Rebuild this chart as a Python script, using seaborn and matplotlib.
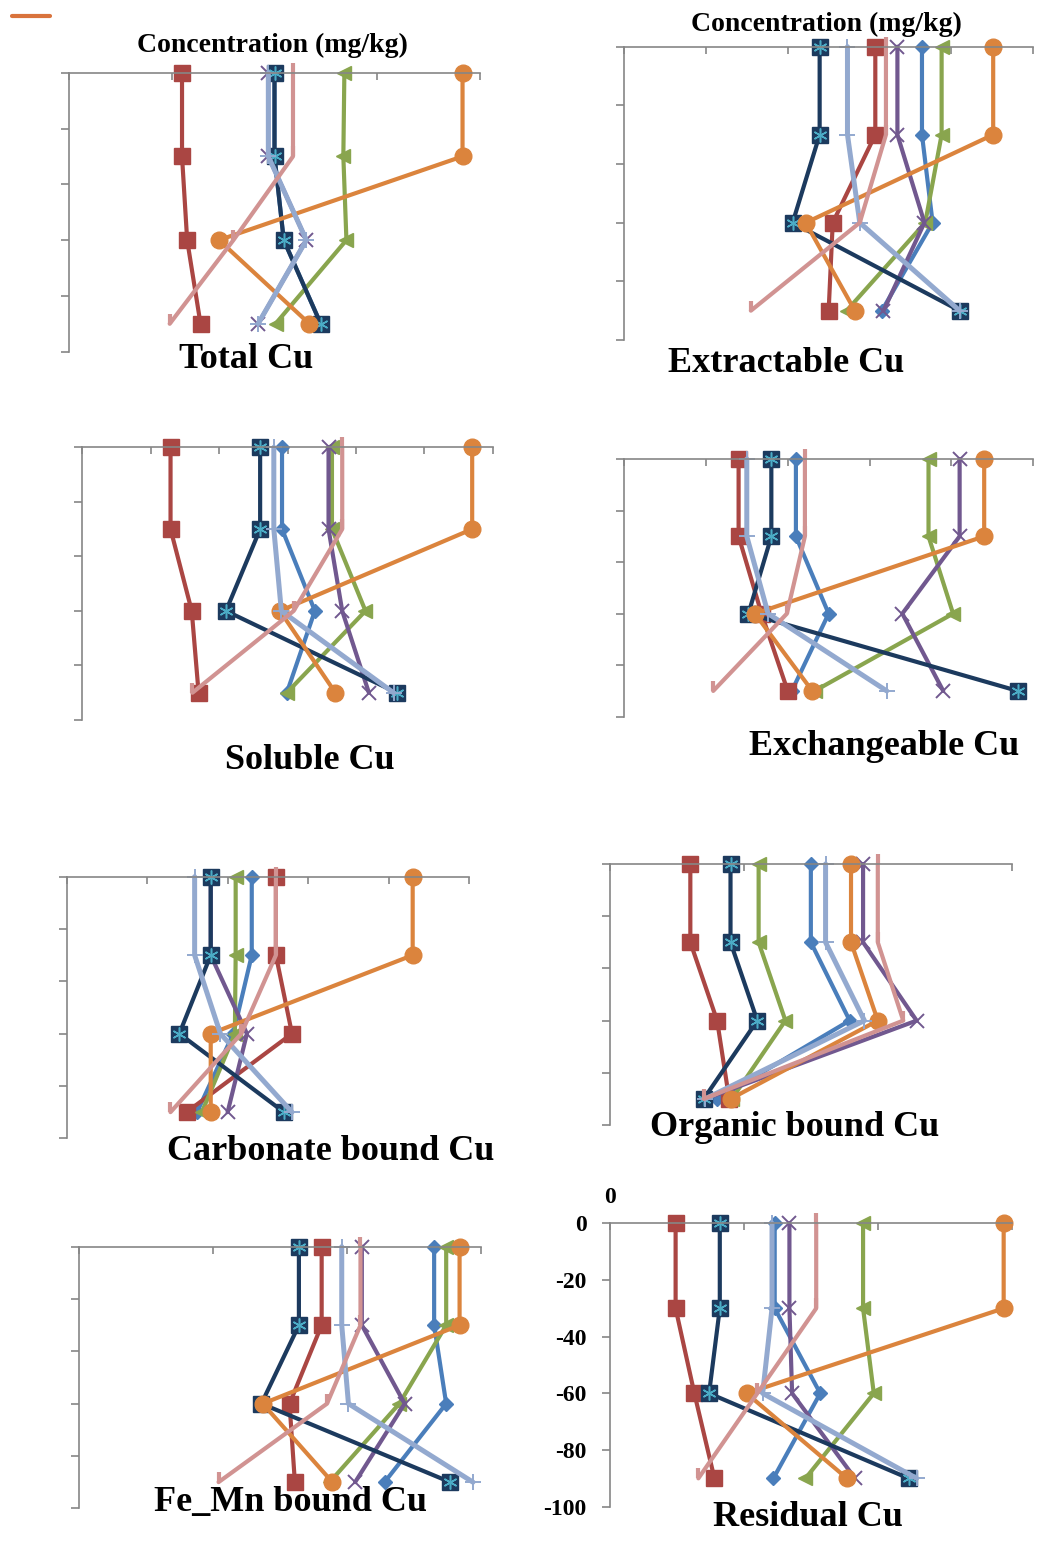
import matplotlib
matplotlib.use("Agg")
import matplotlib.pyplot as plt
from matplotlib.lines import Line2D
import seaborn as sns
import pandas as pd

# ---------------- data (values in axis-tick units) ----------------
depths = [0, -30, -60, -90]
series = ["S1", "S2", "S3", "S4", "S5", "S6", "S7", "S8"]

total_cu = {
    "S1": [2.00, 2.00, 2.09, 2.45], "S2": [1.10, 1.10, 1.15, 1.28],
    "S3": [2.68, 2.67, 2.70, 2.01], "S4": [1.94, 1.94, 2.31, 1.84],
    "S5": [2.00, 2.00, 2.09, 2.45], "S6": [3.83, 3.83, 1.46, 2.34],
    "S7": [1.94, 1.94, 2.31, 1.84], "S8": [2.18, 2.18, 1.60, 0.98],
}
extractable_cu = {
    "S1": [3.64, 3.64, 3.77, 3.15], "S2": [3.07, 3.07, 2.55, 2.50],
    "S3": [3.88, 3.88, 3.68, 2.72], "S4": [3.34, 3.34, 3.67, 3.17],
    "S5": [2.39, 2.39, 2.06, 4.10], "S6": [4.51, 4.51, 2.22, 2.82],
    "S7": [2.73, 2.73, 2.88, 4.10], "S8": [3.20, 3.20, 2.88, 1.55],
}
soluble_cu = {
    "S1": [2.92, 2.92, 3.40, 2.99], "S2": [1.29, 1.29, 1.60, 1.70],
    "S3": [3.65, 3.65, 4.14, 2.99], "S4": [3.60, 3.60, 3.80, 4.19],
    "S5": [2.60, 2.60, 2.10, 4.60], "S6": [5.70, 5.70, 2.89, 3.70],
    "S7": [2.80, 2.80, 2.91, 4.55], "S8": [3.80, 3.80, 3.09, 1.61],
}
exchangeable_cu = {
    "S1": [2.10, 2.10, 2.50, 2.05], "S2": [1.40, 1.40, 1.68, 2.00],
    "S3": [3.72, 3.72, 4.02, 2.33], "S4": [4.10, 4.10, 3.40, 3.90],
    "S5": [1.80, 1.80, 1.52, 4.81], "S6": [4.40, 4.40, 1.60, 2.30],
    "S7": [1.50, 1.50, 1.76, 3.21], "S8": [2.21, 2.21, 1.99, 1.09],
}
carbonate_cu = {
    "S1": [2.30, 2.30, 2.07, 1.62], "S2": [2.60, 2.60, 2.80, 1.49],
    "S3": [2.10, 2.10, 2.09, 1.68], "S4": [1.79, 1.79, 2.24, 2.00],
    "S5": [1.79, 1.79, 1.40, 2.70], "S6": [4.30, 4.30, 1.79, 1.79],
    "S7": [1.59, 1.59, 1.91, 2.80], "S8": [2.60, 2.60, 2.17, 1.29],
}
organic_cu = {
    "S1": [1.50, 1.50, 1.79, 0.80], "S2": [0.60, 0.60, 0.80, 0.89],
    "S3": [1.11, 1.11, 1.31, 0.91], "S4": [1.89, 1.89, 2.29, 0.71],
    "S5": [0.90, 0.90, 1.10, 0.70], "S6": [1.80, 1.80, 2.00, 0.90],
    "S7": [1.61, 1.61, 1.90, 0.71], "S8": [2.00, 2.00, 2.19, 0.70],
}
femn_cu = {
    "S1": [2.65, 2.65, 2.74, 2.28], "S2": [1.81, 1.81, 1.57, 1.61],
    "S3": [2.74, 2.74, 2.39, 1.87], "S4": [2.11, 2.11, 2.43, 2.06],
    "S5": [1.64, 1.64, 1.36, 2.77], "S6": [2.84, 2.84, 1.37, 1.89],
    "S7": [1.96, 1.96, 2.01, 2.94], "S8": [2.10, 2.10, 1.85, 1.04],
}
residual_cu = {
    "S1": [1.23, 1.23, 1.57, 1.22], "S2": [0.49, 0.49, 0.63, 0.78],
    "S3": [1.89, 1.89, 1.97, 1.46], "S4": [1.34, 1.34, 1.36, 1.83],
    "S5": [0.82, 0.82, 0.74, 2.23], "S6": [2.94, 2.94, 1.02, 1.77],
    "S7": [1.21, 1.21, 1.14, 2.29], "S8": [1.54, 1.54, 1.10, 0.66],
}

titles = ["Total Cu", "Extractable Cu", "Soluble Cu", "Exchangeable Cu",
          "Carbonate bound Cu", "Organic bound Cu", "Fe_Mn bound Cu", "Residual Cu"]
y_ticks = [0, -20, -40, -60, -80, -100]
y_ticklabels = ["0", "-20", "-40", "-60", "-80", "-100"]
x_label_text = "Concentration (mg/kg)"

# ---------------- styling / layout ----------------
W, H = 1037, 1557
sns.set_style("white")
plt.rcParams["font.family"] = ["Liberation Serif", "DejaVu Serif"]
plt.rcParams["text.color"] = "black"
plt.rcParams["xtick.color"] = "black"
plt.rcParams["ytick.color"] = "black"

colors = {"S1": "#4A7EBB", "S2": "#AA4643", "S3": "#89A54E", "S4": "#71588F",
          "S5": "#1C3A5E", "S6": "#DB843D", "S7": "#93A9CF", "S8": "#D19392"}
mstyle = {
    "S1": dict(marker="D", ms=7.5, mew=1),
    "S2": dict(marker="s", ms=11.5, mew=1),
    "S3": dict(marker="<", ms=10, mew=1),
    "S4": dict(marker="x", ms=10, mew=1.4),
    "S5": dict(marker="s", ms=11.5, mew=1),
    "S6": dict(marker="o", ms=12, mew=1),
    "S7": dict(marker="+", ms=11, mew=1.4),
    "S8": dict(marker=2, ms=7, mew=3),
}
lws = {"S7": 3.6}

# (data, n_intervals, left, right, top, bottom, title_x, title_y)
panels = [
    (total_cu, 4, 69, 480, 72.7, 351.7, 246, 360),
    (extractable_cu, 5, 624, 1033.3, 46.7, 340, 786, 363),
    (soluble_cu, 6, 82.3, 492.7, 447.3, 720, 310, 760),
    (exchangeable_cu, 5, 624, 1033.3, 459, 716.7, 884, 747),
    (carbonate_cu, 5, 66.7, 469, 876.7, 1138.3, 331, 1152),
    (organic_cu, 3, 610, 1011.7, 864, 1125, 795, 1127),
    (femn_cu, 3, 79.3, 481, 1246.7, 1508.3, 291, 1503),
    (residual_cu, 3, 610, 1011.7, 1223.3, 1506.7, 808, 1517),
]
conc_labels = [(272, 45), (826, 24)]

fig = plt.figure(figsize=(W / 100, H / 100), dpi=100)
gray = "#868686"

for i, (data, nint, l, r, t, b, tx, ty) in enumerate(panels):
    ax = fig.add_axes([l / W, 1 - b / H, (r - l) / W, (b - t) / H])
    for s in series:
        df = pd.DataFrame({"conc": data[s], "depth": depths})
        st = mstyle[s]
        sns.lineplot(data=df, x="conc", y="depth", orient="y", sort=False,
                     color=colors[s], lw=lws.get(s, 3.0), marker=st["marker"],
                     ms=st["ms"], mew=st["mew"], mec=colors[s], mfc=colors[s],
                     ax=ax, clip_on=False, errorbar=None)
        if s == "S5":
            sns.lineplot(data=df, x="conc", y="depth", orient="y", sort=False,
                         lw=0, marker=(6, 2, 0), ms=10, mew=1.1,
                         mec="#4BACC6", color="#4BACC6", ax=ax,
                         clip_on=False, errorbar=None)
    ax.set_xlim(0, nint)
    ax.set_ylim(-100, 0)
    ax.set_xticks(range(nint + 1))
    ax.set_yticks(y_ticks)
    ax.xaxis.tick_top()
    ax.yaxis.tick_left()
    ax.set_xlabel("")
    ax.set_ylabel("")
    for sp in ["right", "bottom"]:
        ax.spines[sp].set_visible(False)
    for sp in ["left", "top"]:
        ax.spines[sp].set_color(gray)
        ax.spines[sp].set_linewidth(1.2)
    ax.tick_params(axis="x", which="major", top=True, bottom=False,
                   direction="in", length=5, color=gray, width=1.2,
                   pad=11, labelsize=17, labelcolor="black")
    ax.tick_params(axis="y", which="major", left=True, right=False,
                   direction="out", length=6, color=gray, width=1.2,
                   pad=11, labelsize=17, labelcolor="black")
    if i == 7:
        ax.set_yticklabels(y_ticklabels, fontweight="bold")
        ax.set_xticklabels(["0"] + [""] * nint, fontweight="bold")
    else:
        ax.set_yticklabels([])
        ax.set_xticklabels([])
    ax.patch.set_alpha(0)
    fig.text(tx / W, 1 - ty / H, titles[i], ha="center", va="center",
             fontsize=26, fontweight="bold", color="black")

for cx, cy in conc_labels:
    fig.text(cx / W, 1 - cy / H, x_label_text, ha="center", va="center",
             fontsize=20, fontweight="bold", color="black")

fig.add_artist(Line2D([12 / W, 50 / W], [1 - 16 / H, 1 - 16 / H],
                      color="#D9733C", lw=3))

fig.savefig("out.png", dpi=100)
